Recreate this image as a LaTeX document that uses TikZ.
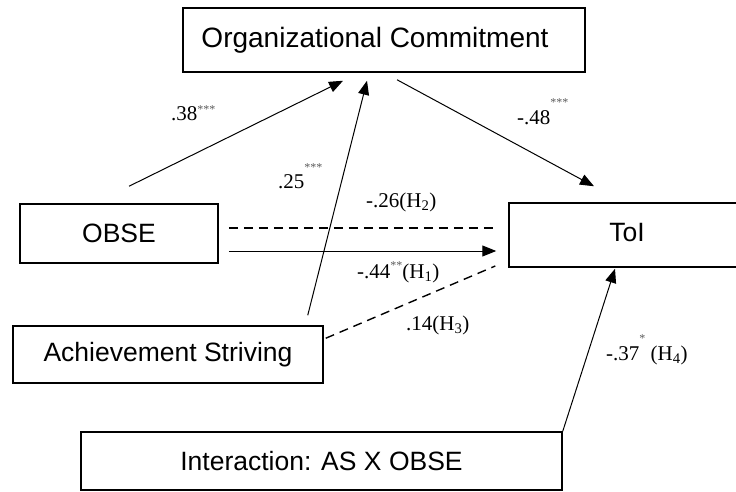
\documentclass[tikz,border=0pt]{standalone}
\usepackage{fontspec}
\setmainfont{Liberation Serif}
\setsansfont{Liberation Sans}
\usepackage{xcolor}
\usepackage{tikz}
\usetikzlibrary{calc,positioning,arrows.meta}

\newcommand{\sig}[2]{\raisebox{#1}{\fontsize{12}{12}\selectfont\color{black!65}#2}}

\tikzset{
  construct/.style={draw=black, line width=1.5pt, inner sep=0pt,
                    font=\sffamily\fontsize{26.5}{30}\selectfont},
  effect/.style={line width=1pt, -{Triangle[length=14pt,width=11pt]}},
  nulleffect/.style={line width=1.4pt, dash pattern=on 9pt off 6pt},
  coef/.style={anchor=west, inner sep=0pt, font=\fontsize{21}{24}\selectfont}
}

\begin{document}
\begin{tikzpicture}[x=1pt,y=-1pt]
        \useasboundingbox (0,0) rectangle (736,492);

        % constructs
        \node[construct, minimum width=402pt, minimum height=64pt,
              font=\sffamily\fontsize{28}{32}\selectfont] (commit) at (384,40) {Organizational Commitment\hspace*{18pt}};
        \node[construct, minimum width=198pt, minimum height=59pt] (obse) at (119,233.5) {OBSE};
        \node[construct, minimum width=236pt, minimum height=64pt] (toi) at (627,235) {\raisebox{5pt}{ToI}};
        \node[construct, minimum width=310pt, minimum height=57pt] (striving) at (168,354.5) {Achievement Striving};
        \node[construct, minimum width=481pt, minimum height=58pt] (inter) at (321.5,461) {Interaction: AS X OBSE};

        % free ends of the paths
        \coordinate (obse-up)   at ($(obse.north)+(10,-17)$);
        \coordinate (obse-hi)   at ($(obse.east)+(10,-5.5)$);
        \coordinate (obse-lo)   at ($(obse.east)+(10,17.5)$);
        \coordinate (as-up)     at ($(striving.north east)+(-16,-10)$);
        \coordinate (as-right)  at ($(striving.north east)+(2,13)$);
        \coordinate (commit-a)  at ($(commit.south)+(-41,8)$);
        \coordinate (commit-b)  at ($(commit.south)+(-17,8)$);
        \coordinate (commit-c)  at ($(commit.south)+(13,7)$);
        \coordinate (toi-top)   at ($(toi.north)+(-33,-16)$);
        \coordinate (toi-hi)    at ($(toi.west)+(-12,-7)$);
        \coordinate (toi-lo)    at ($(toi.west)+(-12,16)$);
        \coordinate (toi-dash)  at ($(toi.west)+(-13,31)$);
        \coordinate (toi-under) at ($(toi.south)+(-12,1)$);

        % paths
        \draw[effect] (obse-up) -- (commit-a);
        \draw[effect] (as-up) -- (commit-b);
        \draw[effect] (commit-c) -- (toi-top);
        \draw[nulleffect] (obse-hi) -- (toi-hi);
        \draw[effect] (obse-lo) -- (toi-lo);
        \draw[nulleffect] (as-right) -- (toi-dash);
        \draw[effect] (inter.north east) -- (toi-under);

        % coefficients
        \node[coef] (c38) at (171,113) {.38\sig{7pt}{***}};
        \node[coef] (c25) at (278,176) {.25\sig{17pt}{***}};
        \node[coef] (c48) at (517,112) {-.48\sig{18pt}{***}};
        \node[coef] (c26) at (366,202) {-.26(H\textsubscript{2})};
        \node[coef] (c44) at (357,272) {-.44\sig{9pt}{**}(H\textsubscript{1})};
        \node[coef] (c14) at (406,325) {.14(H\textsubscript{3})};
        \node[coef] (c37) at (606,350) {-.37\sig{18pt}{*} (H\textsubscript{4})};
\end{tikzpicture}
\end{document}
